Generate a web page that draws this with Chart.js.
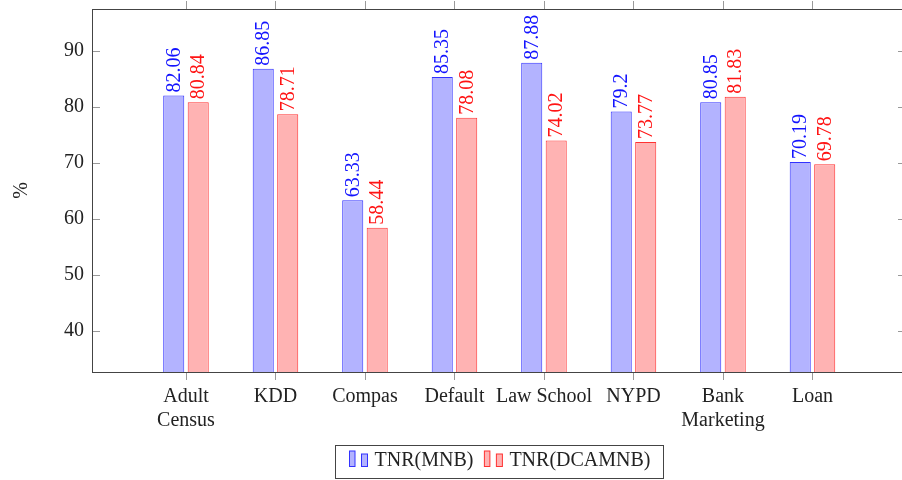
<!DOCTYPE html>
<html>
<head>
<meta charset="utf-8">
<script src="https://cdn.jsdelivr.net/npm/chart.js@4/dist/chart.umd.min.js"></script>
<style>
  html, body { margin: 0; padding: 0; background: #fff; width: 902px; height: 480px; overflow: hidden; }
  canvas { display: block; }
</style>
</head>
<body>
<canvas id="chart" width="908" height="480"></canvas>
<script>
// données
const categories = [['Adult', 'Census'], 'KDD', 'Compas', 'Default', 'Law School', 'NYPD', ['Bank', 'Marketing'], 'Loan'];
const tnrMnb = [82.06, 86.85, 63.33, 85.35, 87.88, 79.2, 80.85, 70.19];
const tnrDcamnb = [80.84, 78.71, 58.44, 78.08, 74.02, 73.77, 81.83, 69.78];
const yTicks = [40, 50, 60, 70, 80, 90];
const seriesNames = ['TNR(MNB)', 'TNR(DCAMNB)'];

const FONT = '"Liberation Serif", "DejaVu Serif", serif';
const TEXT = '#222';
const FRAME = '#444';
const TICK = '#999';
const blue = {line: 'rgb(50,50,255)', fill: 'rgb(179,179,255)', text: 'rgb(20,20,255)'};
const red = {line: 'rgb(255,50,50)', fill: 'rgb(255,179,179)', text: 'rgb(255,20,20)'};

Chart.defaults.font.family = FONT;
Chart.defaults.font.size = 20;
Chart.defaults.color = TEXT;

const toPoints = (arr) => arr.map((v, i) => ({x: i, y: v}));

// cadre + graduations façon pgfplots
const framePlugin = {
  id: 'frame',
  afterDatasetsDraw(chart) {
    const {ctx, chartArea: a, scales} = chart;
    ctx.save();
    ctx.lineWidth = 1;
    ctx.strokeStyle = TICK;
    ctx.beginPath();
    yTicks.forEach((v) => {
      const y = Math.round(scales.y.getPixelForValue(v)) + 0.5;
      ctx.moveTo(a.left, y); ctx.lineTo(a.left + 8, y);
      ctx.moveTo(a.right - 8, y); ctx.lineTo(a.right, y);
    });
    categories.forEach((_, i) => {
      const x = Math.round(scales.x.getPixelForValue(i)) + 0.5;
      ctx.moveTo(x, a.bottom); ctx.lineTo(x, a.bottom + 8);
      ctx.moveTo(x, a.top - 8); ctx.lineTo(x, a.top);
    });
    ctx.stroke();
    ctx.strokeStyle = FRAME;
    ctx.strokeRect(Math.round(a.left) + 0.5, Math.round(a.top) + 0.5,
      Math.round(a.right - a.left), Math.round(a.bottom - a.top));

    // valeurs au-dessus des barres, texte vertical
    ctx.font = `20px ${FONT}`;
    ctx.textAlign = 'left';
    ctx.textBaseline = 'middle';
    chart.data.datasets.forEach((ds, di) => {
      const meta = chart.getDatasetMeta(di);
      ctx.fillStyle = ds.labelColor;
      meta.data.forEach((el, i) => {
        ctx.save();
        ctx.translate(el.x + 1, el.y - 3);
        ctx.rotate(-Math.PI / 2);
        ctx.fillText(String(ds.data[i].y), 0, 0);
        ctx.restore();
      });
    });
    ctx.restore();
  },
  afterDraw(chart) {
    // légende encadrée en bas
    const {ctx} = chart;
    ctx.save();
    ctx.font = `20px ${FONT}`;
    ctx.textBaseline = 'alphabetic';
    ctx.textAlign = 'left';
    const left = 335.5, right = 663.5, top = 445.5, h = 33;
    ctx.strokeStyle = FRAME;
    ctx.lineWidth = 1;
    ctx.strokeRect(left, top, right - left, h);
    const items = chart.data.datasets.map((ds) => ({ds, w: ctx.measureText(ds.label).width}));
    const iconW = 19, gapIcon = 6, gapItem = 11;
    const used = items.reduce((s, it) => s + iconW + gapIcon + it.w, 0) + gapItem * (items.length - 1);
    let x = Math.round((left + right) / 2 - used / 2) + 0.5;
    items.forEach(({ds, w}) => {
      ctx.fillStyle = ds.backgroundColor;
      ctx.strokeStyle = ds.borderColor;
      ctx.fillRect(x, 451, 5.5, 15.5);
      ctx.strokeRect(x, 451, 5.5, 15.5);
      ctx.fillRect(x + 12, 454, 6, 12.5);
      ctx.strokeRect(x + 12, 454, 6, 12.5);
      x += iconW + gapIcon;
      ctx.fillStyle = TEXT;
      ctx.fillText(ds.label, x, 466);
      x += w + gapItem;
    });
    ctx.restore();
  },
};

new Chart(document.getElementById('chart'), {
  type: 'bar',
  data: {
    datasets: [
      {label: seriesNames[0], data: toPoints(tnrMnb), backgroundColor: blue.fill, borderColor: blue.line, labelColor: blue.text},
      {label: seriesNames[1], data: toPoints(tnrDcamnb), backgroundColor: red.fill, borderColor: red.line, labelColor: red.text},
    ],
  },
  options: {
    responsive: false,
    animation: false,
    devicePixelRatio: 1,
    layout: {padding: {top: 9, right: 2, bottom: 0, left: 0}},
    datasets: {
      bar: {
        borderWidth: 1,
        borderSkipped: false,
        categoryPercentage: 0.547,
        barPercentage: 0.86,
      },
    },
    plugins: {
      legend: {display: false},
      tooltip: {enabled: false},
    },
    scales: {
      x: {
        type: 'linear',
        offset: false,
        min: -1.05,
        max: 8.045,
        grid: {display: false, drawTicks: false, offset: false},
        border: {display: false},
        afterBuildTicks: (s) => { s.ticks = categories.map((_, i) => ({value: i})); },
        afterFit: (s) => { s.height = 108; s.paddingLeft = 0; s.paddingRight = 0; },
        ticks: {
          color: TEXT,
          padding: 13,
          maxRotation: 0,
          autoSkip: false,
          font: {size: 20, lineHeight: 1.2},
          callback: (v) => categories[v],
        },
      },
      y: {
        min: 32.68,
        max: 97.5,
        grid: {display: false, drawTicks: false},
        border: {display: false},
        afterBuildTicks: (s) => { s.ticks = yTicks.map((v) => ({value: v})); },
        afterFit: (s) => { s.width = 92; s.paddingTop = 0; s.paddingBottom = 0; },
        ticks: {color: TEXT, padding: 8, font: {size: 20}},
        title: {display: true, text: '%', color: TEXT, font: {size: 20}, padding: {top: 10, bottom: 0}},
      },
    },
  },
  plugins: [framePlugin],
});
</script>
</body>
</html>
